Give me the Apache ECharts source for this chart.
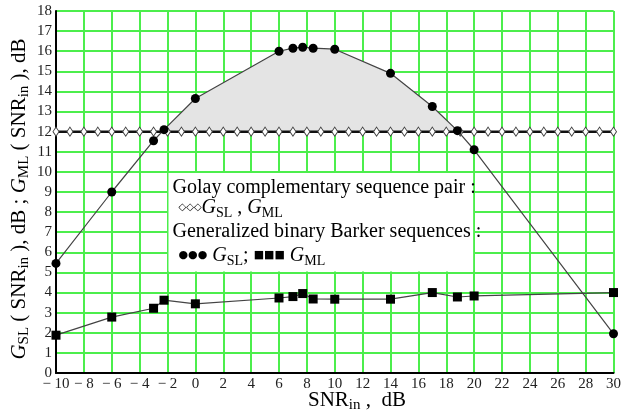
<!DOCTYPE html>
<html><head><meta charset="utf-8">
<script src="https://cdn.jsdelivr.net/npm/echarts@6/dist/echarts.min.js"></script>
<style>html,body{margin:0;padding:0;background:#fff}#c{width:624px;height:416px}</style>
</head><body><div id="c"></div>
<script>
// ---- data ----
const barkerX   = [-10, -6, -3, -2.25, 0, 6, 7, 7.7, 8.45, 10, 14, 17, 18.8, 20, 30];
const barkerGSL = [5.45, 9.0, 11.55, 12.1, 13.65, 16.0, 16.15, 16.2, 16.15, 16.1, 14.9, 13.25, 12.05, 11.1, 1.95];
const barkerGML = [1.88, 2.78, 3.22, 3.62, 3.44, 3.73, 3.8, 3.95, 3.68, 3.67, 3.67, 4.0, 3.78, 3.83, 4.0];
const golayX    = [-10,-9,-8,-7,-6,-5,-4,-3,-2,-1,0,1,2,3,4,5,6,7,8,9,10,11,12,13,14,15,16,17,18,19,20,21,22,23,24,25,26,27,28,29,30];
const golayG    = [12,12,12,12,12,12,12,12,12,12,12,12,12,12,12,12,12,12,12,12,12,12,12,12,12,12,12,12,12,12,12,12,12,12,12,12,12,12,12,12,12];
const golayLevel = 12;
const xMin = -10, xMax = 30, xStep = 2;
const yMin = 0, yMax = 18, yStep = 1;

const serif = '"Liberation Serif","Times New Roman",serif';
const gridGreen = '#4cee4c';
const titleColor = '#9a5a1c';

const chart = echarts.init(document.getElementById('c'), null, {renderer: 'canvas'});

const pair = (xs, ys) => xs.map((x, i) => [x, ys[i]]);
const gslPts = pair(barkerX, barkerGSL);
const gmlPts = pair(barkerX, barkerGML);
const golayPts = pair(golayX, golayG);
const fillPts = gslPts.filter(p => p[1] >= golayLevel);

function tickFmt(v) { return v < 0 ? '\u2212 ' + (-v) : String(v); }

function makeRich(size, sub, col) {
  return {
    n: {fontFamily: serif, fontSize: size, lineHeight: size + 5, color: col},
    g: {fontFamily: serif, fontSize: size, lineHeight: size + 5, fontStyle: 'italic', color: col},
    s: {fontFamily: serif, fontSize: sub, lineHeight: sub, verticalAlign: 'bottom', color: col}
  };
}
const legRich = makeRich(20, 14, '#000');

chart.setOption({
  animation: false,
  backgroundColor: '#fff',
  grid: {left: 56, right: 8, top: 11, bottom: 43, show: true, borderColor: '#666', borderWidth: 1, backgroundColor: 'transparent'},
  xAxis: {
    type: 'value', min: xMin, max: xMax, interval: xStep,
    axisLine: {show: true, onZero: false, lineStyle: {color: '#000', width: 2}},
    axisTick: {show: false},
    splitLine: {show: true, lineStyle: {color: gridGreen, width: 2}},
    axisLabel: {formatter: tickFmt, fontFamily: serif, fontSize: 15, color: '#222', margin: 4}
  },
  yAxis: {
    type: 'value', min: yMin, max: yMax, interval: yStep,
    axisLine: {show: true, onZero: false, lineStyle: {color: '#000', width: 2}},
    axisTick: {show: false},
    splitLine: {show: true, lineStyle: {color: gridGreen, width: 2}},
    axisLabel: {fontFamily: serif, fontSize: 15, color: '#222', margin: 4}
  },
  series: [
    {
      type: 'line', data: fillPts, symbol: 'none', silent: true, z: 1,
      lineStyle: {width: 0, opacity: 0},
      areaStyle: {color: '#e4e4e4', opacity: 1, origin: golayLevel}
    },
    {
      type: 'line', data: golayPts, symbol: 'diamond', symbolSize: [6, 9], z: 3,
      lineStyle: {color: '#111', width: 2.5},
      itemStyle: {color: '#fff', borderColor: '#444', borderWidth: 1}
    },
    {
      type: 'line', data: gslPts, symbol: 'circle', symbolSize: 9, z: 4,
      lineStyle: {color: '#444', width: 1.2},
      itemStyle: {color: '#000', borderWidth: 0}
    },
    {
      type: 'line', data: gmlPts, symbol: 'rect', symbolSize: 9, z: 4,
      lineStyle: {color: '#444', width: 1.2},
      itemStyle: {color: '#000', borderWidth: 0}
    }
  ]
});

const p1 = chart.convertToPixel({gridIndex: 0}, [-2, 10]);
const p2 = chart.convertToPixel({gridIndex: 0}, [20, 5]);
const bx = p1[0] + 1, by = p1[1] + 1, bw = p2[0] - p1[0] - 2, bh = p2[1] - p1[1] - 2;

chart.setOption({
  graphic: [
    {type: 'rect', z: 1, shape: {x: bx, y: by, width: bw, height: bh}, style: {fill: '#fff', stroke: null}, silent: true},
    {type: 'text', z: 10, x: bx + 4, y: by + 2, style: {text: '{n|Golay complementary sequence pair :}', rich: legRich}},
    {type: 'text', z: 10, x: bx + 10, y: by + 22, style: {
      text: '{d|\u25C7\u25C7\u25C7}{g|G}{s|SL}{n| , }{g|G}{s|ML}',
      rich: Object.assign({d: {fontFamily: '"DejaVu Sans"', fontSize: 10, lineHeight: 25, color: '#333'}}, legRich)}},
    {type: 'text', z: 10, x: bx + 4, y: by + 46, style: {text: '{n|Generalized binary Barker sequences :}', rich: legRich}},
    {type: 'text', z: 10, x: bx + 10, y: by + 70, style: {
      text: '{c|\u25CF\u25CF\u25CF}{g| G}{s|SL}{n|; }{q|\u25A0\u25A0\u25A0}{g| G}{s|ML}',
      rich: Object.assign({
        c: {fontFamily: '"DejaVu Sans"', fontSize: 11, lineHeight: 25, color: '#000'},
        q: {fontFamily: '"DejaVu Sans"', fontSize: 11, lineHeight: 25, color: '#000'}
      }, legRich)}},
    {type: 'text', z: 10, x: 357, y: 400, style: {
      text: '{n|SNR}{s|in}{n| ,  dB}', rich: makeRich(21, 15, '#000'), align: 'center', verticalAlign: 'middle'}},
    {type: 'text', z: 10, x: 19, y: 199, rotation: Math.PI / 2, style: {
      text: '{g|G}{s|SL}{n| ( SNR}{s|in}{n| ), dB ; }{g|G}{s|ML}{n| ( SNR}{s|in}{n| ), dB}',
      rich: makeRich(21, 15, titleColor), align: 'center', verticalAlign: 'middle'}}
  ]
});
</script></body></html>
